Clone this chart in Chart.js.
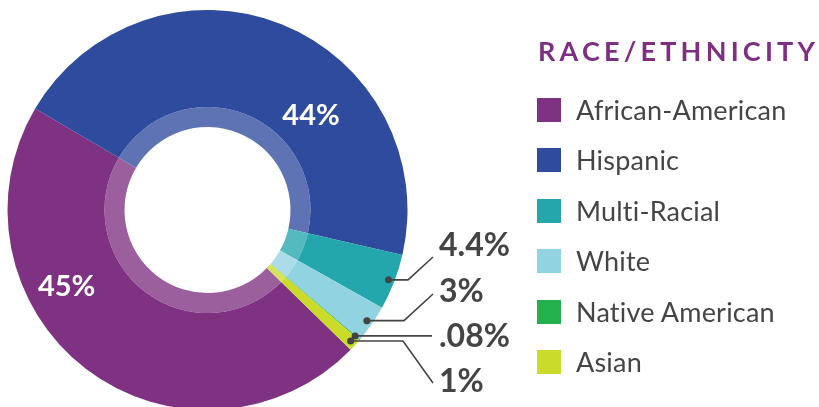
<!DOCTYPE html>
<html><head><meta charset="utf-8">
<script src="https://cdn.jsdelivr.net/npm/chart.js@4.4.1/dist/chart.umd.min.js"></script>
<style>
html,body{margin:0;padding:0;background:#fff;overflow:hidden;width:819px;height:407px}
#wrap{position:absolute;left:0;top:0;width:819px;height:420px}
#legend{position:absolute;left:0;top:0;width:819px;height:407px;pointer-events:none;font-family:Lato,"Open Sans",sans-serif}
.ttl{position:absolute;left:538px;top:34px;font-size:27px;font-weight:700;letter-spacing:4.2px;color:#7e2f82;line-height:34px;white-space:nowrap}
.row{position:absolute;left:537px;height:24px;display:flex;align-items:center;white-space:nowrap}
.box{width:24px;height:24px;margin-right:15px;flex:none}
.lab{font-size:27px;font-weight:400;color:#454545;line-height:24px;letter-spacing:0.2px}
</style></head>
<body>
<div id="wrap"><canvas id="c"></canvas></div>
<div id="legend"></div>
<script>
const categories = ['African-American','Hispanic','Multi-Racial','White','Native American','Asian'];
const values = [45, 44, 4.4, 3, 0.08, 1];
const valueLabels = ['45%','44%','4.4%','3%','.08%','1%'];
const colors = ['#7f3282','#2f4b9e','#24a6ad','#92d3e1','#22b14c','#cbdb2a'];
const legendTitle = 'RACE/ETHNICITY';

function tint(hex, a){
  const n = parseInt(hex.slice(1),16);
  const r=(n>>16)&255,g=(n>>8)&255,b=n&255;
  const m=c=>Math.round(c+(255-c)*a);
  return 'rgb('+m(r)+','+m(g)+','+m(b)+')';
}
const ringColors = colors.map(c=>tint(c,0.22));

// label placement: fraction along arc, fraction of outer radius
const insideLabels = [{i:0, frac:0.646, rad:0.80}, {i:1, frac:0.657, rad:0.705}];
// callouts: elbow x, end point, text y (cap bottom)
const callouts = [
  {i:2, elbow:408, ex:433, ey:257, ty:256},
  {i:3, elbow:404, ex:433, ey:294, ty:301.5},
  {i:4, elbow:null, ex:432, ey:null, ty:347},
  {i:5, elbow:403, ex:433, ey:383, ty:391.5}
];

const labelPlugin = {
  id:'labelPlugin',
  afterDraw(chart){
    const ctx = chart.ctx;
    const meta = chart.getDatasetMeta(0);
    ctx.save();
    ctx.fillStyle = '#fff';
    ctx.font = '700 29px Lato, "Open Sans", sans-serif';
    ctx.textAlign = 'center';
    ctx.textBaseline = 'alphabetic';
    insideLabels.forEach(o=>{
      const p = meta.data[o.i].getProps(['x','y','startAngle','endAngle','outerRadius'], true);
      const a = p.startAngle + o.frac*(p.endAngle-p.startAngle);
      const x = p.x + Math.cos(a)*p.outerRadius*o.rad;
      const y = p.y + Math.sin(a)*p.outerRadius*o.rad;
      ctx.fillText(valueLabels[o.i], x, y + 29*0.72/2);
    });
    ctx.strokeStyle = '#444';
    ctx.fillStyle = '#444';
    ctx.lineWidth = 1.6;
    ctx.font = '700 32px Lato, "Open Sans", sans-serif';
    ctx.textAlign = 'left';
    callouts.forEach(o=>{
      const p = meta.data[o.i].getProps(['x','y','startAngle','endAngle','outerRadius'], true);
      const a = (p.startAngle + p.endAngle)/2;
      const dx = p.x + Math.cos(a)*p.outerRadius*0.97;
      const dy = p.y + Math.sin(a)*p.outerRadius*0.97;
      ctx.beginPath();
      ctx.moveTo(dx, dy);
      if (o.elbow !== null){
        ctx.lineTo(o.elbow, dy);
        ctx.lineTo(o.ex, o.ey);
      } else {
        ctx.lineTo(o.ex, dy);
      }
      ctx.stroke();
      ctx.beginPath();
      ctx.arc(dx, dy, 3.5, 0, Math.PI*2);
      ctx.fill();
      ctx.fillText(valueLabels[o.i], 439, o.ty);
    });
    ctx.restore();
  }
};

const htmlLegend = {
  id:'htmlLegend',
  afterUpdate(chart){
    const el = document.getElementById('legend');
    el.innerHTML = '';
    const t = document.createElement('div');
    t.className='ttl'; t.textContent = legendTitle; el.appendChild(t);
    chart.data.labels.forEach((lab, k)=>{
      const r = document.createElement('div');
      r.className='row'; r.style.top = (97.5 + k*50.5)+'px';
      const b = document.createElement('div');
      b.className='box'; b.style.background = chart.data.datasets[0].backgroundColor[k];
      const s = document.createElement('div');
      s.className='lab'; s.textContent = lab;
      r.appendChild(b); r.appendChild(s); el.appendChild(r);
    });
  }
};

new Chart(document.getElementById('c'), {
  type:'doughnut',
  data:{
    labels: categories,
    datasets:[
      {data: values, backgroundColor: colors, borderWidth:0, weight:97},
      {data: values, backgroundColor: ringColors, borderWidth:0, weight:20}
    ]
  },
  options:{
    responsive:true, maintainAspectRatio:false, animation:false,
    cutout:'41.5%', rotation:134.3,
    layout:{padding:{left:7, right:411, top:10, bottom:10}},
    plugins:{legend:{display:false}, tooltip:{enabled:false}}
  },
  plugins:[labelPlugin, htmlLegend]
});
</script>
</body></html>
